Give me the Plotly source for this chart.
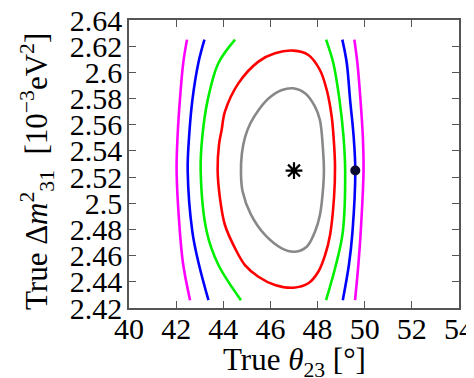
import plotly.graph_objects as go

# ---- data ----
x_ticks = [40, 42, 44, 46, 48, 50, 52, 54]
x_ticklabels = ["40", "42", "44", "46", "48", "50", "52", "54"]
y_ticks = [2.42, 2.44, 2.46, 2.48, 2.50, 2.52, 2.54, 2.56, 2.58, 2.60, 2.62, 2.64]
y_ticklabels = ["2.42", "2.44", "2.46", "2.48", "2.5", "2.52", "2.54", "2.56", "2.58", "2.6", "2.62", "2.64"]

x_title = "True <i>θ</i><sub>23</sub> [°]"
y_title = "True Δ<i>m</i><sup>2</sup><sub>31</sub>  [10<sup>−3</sup>eV<sup>2</sup>]"

# closed contours
gray_theta = [46.97, 47.47, 47.89, 48.10, 48.24, 48.27, 48.24, 48.10, 47.89, 47.54, 47.04, 46.48,
              45.77, 45.17, 44.82, 44.75, 44.79, 44.93, 45.15, 45.50, 45.93, 46.49, 46.97]
gray_dm = [2.5878, 2.5840, 2.5738, 2.5636, 2.5382, 2.5254, 2.5127, 2.4910, 2.4783, 2.4668, 2.4630, 2.4656,
           2.4758, 2.4915, 2.5090, 2.5229, 2.5382, 2.5509, 2.5611, 2.5713, 2.5802, 2.5865, 2.5878]

red_theta = [46.97, 47.61, 48.10, 48.39, 48.60, 48.70, 48.74, 48.70, 48.53, 48.32, 48.03, 47.61, 46.97,
             46.19, 45.49, 44.92, 44.50, 44.07, 43.86, 43.76, 43.82, 43.93, 44.07, 44.64, 45.49, 46.19, 46.97]
red_dm = [2.6166, 2.6133, 2.6018, 2.5865, 2.5661, 2.5450, 2.5280, 2.5050, 2.4758, 2.4605, 2.4477, 2.4389, 2.4355,
          2.4376, 2.4439, 2.4528, 2.4656, 2.4834, 2.5038, 2.5254, 2.5450, 2.5560, 2.5700, 2.5916, 2.6082, 2.6146, 2.6166]

# open contours (cut by the scanned range)
open_dm = [2.625, 2.607, 2.579, 2.551, 2.525, 2.478, 2.453, 2.426]
green_left = [44.50, 43.79, 43.34, 43.11, 43.04, 43.30, 43.79, 44.75]
green_right = [48.36, 48.67, 48.93, 49.10, 49.17, 49.07, 48.78, 48.36]
blue_left = [43.20, 42.94, 42.69, 42.55, 42.49, 42.69, 42.97, 43.37]
blue_right = [49.05, 49.24, 49.38, 49.53, 49.60, 49.48, 49.33, 49.07]
magenta_left = [42.46, 42.30, 42.16, 42.06, 42.02, 42.16, 42.30, 42.59]
magenta_right = [49.56, 49.69, 49.82, 49.92, 49.95, 49.83, 49.73, 49.59]

best_fit = (47.0, 2.525)
test_point = (49.6, 2.525)

# ---- figure ----
fig = go.Figure()
LW = 2.6

def add_line(xs, ys, color):
    fig.add_trace(go.Scatter(x=xs, y=ys, mode="lines",
                             line=dict(color=color, width=LW, shape="spline", smoothing=1.0),
                             hoverinfo="skip", showlegend=False))

add_line(gray_theta, gray_dm, "#888888")
add_line(red_theta, red_dm, "#ff0000")
add_line(green_left, open_dm, "#00ee00")
add_line(green_right, open_dm, "#00ee00")
add_line(blue_left, open_dm, "#0000ff")
add_line(blue_right, open_dm, "#0000ff")
add_line(magenta_left, open_dm, "#ff00ff")
add_line(magenta_right, open_dm, "#ff00ff")

fig.add_trace(go.Scatter(x=[best_fit[0]], y=[best_fit[1]], mode="markers",
                         marker=dict(symbol="asterisk-open", size=14, color="black",
                                     line=dict(color="black", width=2.2)),
                         showlegend=False))
fig.add_trace(go.Scatter(x=[test_point[0]], y=[test_point[1]], mode="markers",
                         marker=dict(symbol="circle", size=10, color="#0a0a30"),
                         showlegend=False))

FONT = "Liberation Serif, Times New Roman, serif"
axis_common = dict(showgrid=False, zeroline=False, showline=True, linecolor="#555555", linewidth=1.5,
                   mirror="ticks", ticks="inside", ticklen=7, tickwidth=1.3, tickcolor="#555555",
                   automargin=False, ticklabeloverflow="allow",
                   tickfont=dict(family=FONT, size=30, color="black"))

# page body adds an 8px offset, so the figure is sized to fit the window exactly
fig.update_layout(
    width=466, height=370,
    margin=dict(l=121, r=15, t=12, b=70),
    paper_bgcolor="white", plot_bgcolor="white",
    font=dict(family=FONT, color="black"),
    xaxis=dict(range=[40, 54], tickmode="array", tickvals=x_ticks, ticktext=x_ticklabels,
               ticklabelstandoff=-7, **axis_common),
    yaxis=dict(range=[2.42, 2.64], tickmode="array", tickvals=y_ticks, ticktext=y_ticklabels,
               ticklabelstandoff=-1, **axis_common),
)

fig.add_annotation(text=x_title, xref="paper", yref="paper", x=0.5, y=0,
                   xanchor="center", yanchor="top", yshift=-32, showarrow=False,
                   font=dict(family=FONT, size=31, color="black"))
fig.add_annotation(text=y_title, xref="paper", yref="paper", x=0, y=0.5,
                   xanchor="center", yanchor="middle", xshift=-92, yshift=-8, textangle=-90,
                   showarrow=False, font=dict(family=FONT, size=31, color="black"))

fig.write_html("out.html")
